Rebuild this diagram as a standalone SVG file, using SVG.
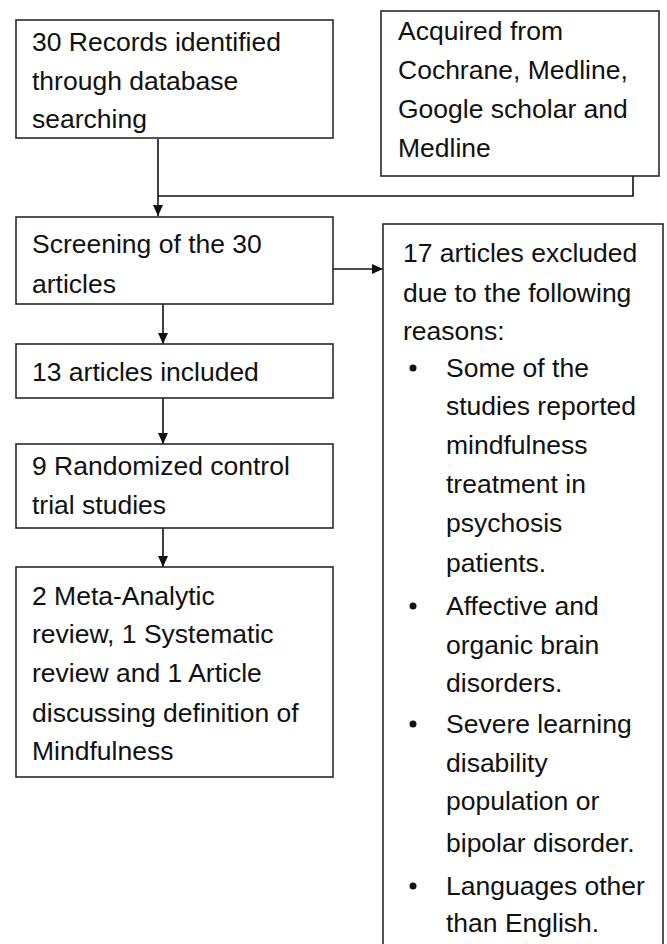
<svg xmlns="http://www.w3.org/2000/svg" width="667" height="944" viewBox="0 0 667 944">
<style>
.box{fill:#fff;stroke:#2a2a2a;stroke-width:1.6}
.t{font-family:"Liberation Sans",Arial,sans-serif;font-size:26.5px;fill:#111}
.c{fill:none;stroke:#111;stroke-width:1.6}
</style>
<defs>
<marker id="ah" markerWidth="12" markerHeight="12" refX="11" refY="6" orient="auto" markerUnits="userSpaceOnUse">
<path d="M0,1 L11,6 L0,11 Z" fill="#111"/>
</marker>
</defs>
<rect width="667" height="944" fill="#fff"/>
<g id="connectors">
<path class="c" d="M158 139 V216" marker-end="url(#ah)"/>
<path class="c" d="M158 196 H633 V176"/>
<path class="c" d="M333 269 H383" marker-end="url(#ah)"/>
<path class="c" d="M163 304 V344" marker-end="url(#ah)"/>
<path class="c" d="M163 398 V444" marker-end="url(#ah)"/>
<path class="c" d="M163 528 V567" marker-end="url(#ah)"/>
</g>
<g id="records">
<rect class="box" x="16" y="20" width="317" height="118"/>
<text class="t" x="32" y="51">30 Records identified</text>
<text class="t" x="32" y="90">through database</text>
<text class="t" x="32" y="128">searching</text>
</g>
<g id="acquired">
<rect class="box" x="381" y="11" width="278" height="165"/>
<text class="t" x="398" y="40">Acquired from</text>
<text class="t" x="398" y="79">Cochrane, Medline,</text>
<text class="t" x="398" y="118">Google scholar and</text>
<text class="t" x="398" y="157">Medline</text>
</g>
<g id="screening">
<rect class="box" x="16" y="217" width="317" height="87"/>
<text class="t" x="32" y="253">Screening of the 30</text>
<text class="t" x="32" y="293">articles</text>
</g>
<g id="excluded">
<rect class="box" x="383" y="224" width="280" height="730"/>
<text class="t" x="403" y="262">17 articles excluded</text>
<text class="t" x="403" y="302">due to the following</text>
<text class="t" x="403" y="340">reasons:</text>
<circle cx="413" cy="368" r="3.5" fill="#111"/>
<text class="t" x="446" y="377">Some of the</text>
<text class="t" x="446" y="415">studies reported</text>
<text class="t" x="446" y="454">mindfulness</text>
<text class="t" x="446" y="493">treatment in</text>
<text class="t" x="446" y="532">psychosis</text>
<text class="t" x="446" y="572">patients.</text>
<circle cx="413" cy="606" r="3.5" fill="#111"/>
<text class="t" x="446" y="615">Affective and</text>
<text class="t" x="446" y="654">organic brain</text>
<text class="t" x="446" y="692">disorders.</text>
<circle cx="413" cy="724" r="3.5" fill="#111"/>
<text class="t" x="446" y="733">Severe learning</text>
<text class="t" x="446" y="772">disability</text>
<text class="t" x="446" y="810">population or</text>
<text class="t" x="446" y="852">bipolar disorder.</text>
<circle cx="413" cy="886" r="3.5" fill="#111"/>
<text class="t" x="446" y="895">Languages other</text>
<text class="t" x="446" y="932">than English.</text>
</g>
<g id="included">
<rect class="box" x="16" y="344" width="317" height="54"/>
<text class="t" x="32" y="381">13 articles included</text>
</g>
<g id="rct">
<rect class="box" x="16" y="444" width="317" height="84"/>
<text class="t" x="32" y="475">9 Randomized control</text>
<text class="t" x="32" y="514">trial studies</text>
</g>
<g id="reviews">
<rect class="box" x="16" y="567" width="317" height="210"/>
<text class="t" x="32" y="605">2 Meta-Analytic</text>
<text class="t" x="32" y="643">review, 1 Systematic</text>
<text class="t" x="32" y="682">review and 1 Article</text>
<text class="t" x="32" y="722">discussing definition of</text>
<text class="t" x="32" y="760">Mindfulness</text>
</g>
</svg>
